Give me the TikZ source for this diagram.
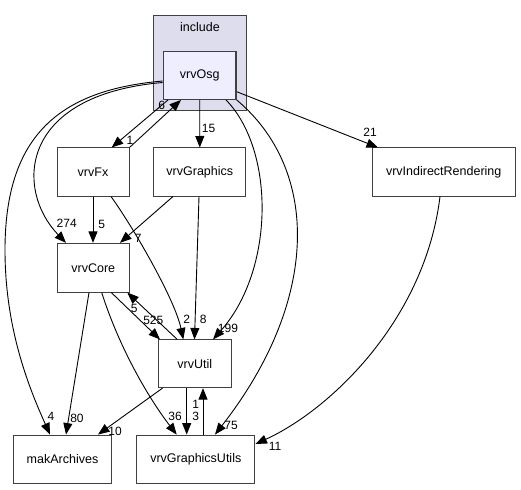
\documentclass[tikz,border=0pt]{standalone}
\usepackage{fontspec}
\setmainfont{Liberation Sans}
\usetikzlibrary{arrows.meta}
\definecolor{clusterfill}{HTML}{DDDDEE}
\definecolor{osgfill}{HTML}{EEEEFF}
\definecolor{bordergray}{HTML}{404040}
\begin{document}
\begin{tikzpicture}[x=1pt,y=-1pt,
  box/.style={draw=bordergray,line width=1pt,fill=white,inner sep=0pt,font=\fontsize{12.5}{14}\selectfont},
  lbl/.style={inner sep=0pt,font=\fontsize{12}{14}\selectfont},
  edge/.style={draw=black,line width=0.9pt,-{Triangle[length=11.5pt,width=9pt]}}]
\useasboundingbox (0,0) rectangle (521,489);
% cluster
\node[draw=bordergray,line width=1pt,fill=clusterfill,minimum width=93.5pt,minimum height=95pt,inner sep=0pt] (include) at (199.75,63) {};
\node[lbl,font=\fontsize{12.5}{14}\selectfont] (includelbl) at (200,27) {include};
% nodes
\node[box,fill=osgfill,line width=1.3pt,minimum width=72.7pt,minimum height=47.6pt] (osg) at (199.7,75.5) {vrvOsg};
\node[box,minimum width=72pt,minimum height=48pt] (fx) at (93,172) {vrvFx};
\node[box,minimum width=91.7pt,minimum height=48pt] (gr) at (199.8,172) {vrvGraphics};
\node[box,minimum width=142.7pt,minimum height=48pt] (ir) at (443.7,172) {vrvIndirectRendering};
\node[box,minimum width=72pt,minimum height=48.7pt] (core) at (93.3,267.7) {vrvCore};
\node[box,minimum width=72.7pt,minimum height=47.7pt] (util) at (194.7,363.8) {vrvUtil};
\node[box,minimum width=98.4pt,minimum height=48.3pt] (mak) at (62.5,459.2) {makArchives};
\node[box,minimum width=118.3pt,minimum height=48.3pt] (gu) at (195.8,459.2) {vrvGraphicsUtils};
% edges
\draw[edge] ([xshift=-31.7pt]osg.south) -- ([xshift=18.7pt]fx.north);
\draw[edge] (fx.north east) -- ([xshift=-18.7pt]osg.south);
\draw[edge] (osg.south) -- (gr.north);
\draw[edge] ([yshift=-16.2pt]osg.east) -- ([xshift=-65.7pt]ir.north);
\draw[edge] ([yshift=-7pt]osg.west) .. controls (18,95) and (15,190) .. ([xshift=-27.3pt]core.north);
\draw[edge] ([yshift=-5.5pt]osg.west) .. controls (60,90) and (5,135) .. (5,250) .. controls (5,330) and (30,390) .. ([xshift=-12.5pt]mak.north);
\draw[edge] ([xshift=26.3pt]osg.south) .. controls (275,150) and (275,270) .. ([xshift=18.3pt]util.north);
\draw[edge] (osg.south east) .. controls (320,170) and (320,300) .. ([xshift=19.2pt]gu.north);
\draw[edge] (fx.south) -- ([xshift=-0.3pt]core.north);
\draw[edge] ([xshift=18pt]fx.south) .. controls (135,230) and (175,300) .. ([xshift=-11.4pt]util.north);
\draw[edge] ([xshift=-26.8pt]gr.south) -- ([xshift=26.7pt]core.north);
\draw[edge] ([xshift=-0.8pt]gr.south) -- ([xshift=-0.2pt]util.north);
\draw[edge] ([xshift=-3.7pt]ir.south) .. controls (425,320) and (330,410) .. ([yshift=15.2pt]gu.east);
\draw[edge] ([xshift=-4.3pt]core.south) -- ([xshift=3.5pt]mak.north);
\draw[edge] ([xshift=18pt]core.south) -- ([xshift=-34.7pt]util.north);
\draw[edge] ([xshift=-17.4pt]util.north) -- ([xshift=34pt]core.south);
\draw[edge] ([xshift=8.4pt]core.south) .. controls (120,350) and (150,400) .. ([xshift=-19.1pt]gu.north);
\draw[edge] ([xshift=-32.2pt]util.south) -- ([xshift=35.5pt]mak.north);
\draw[edge] ([xshift=-8pt]util.south) -- ([xshift=-9.1pt]gu.north);
\draw[edge] ([xshift=7.2pt]gu.north) -- ([xshift=8.3pt]util.south);
% labels
\node[lbl] (l1) at (130,140) {1};
\node[lbl] (l6) at (161.7,105.5) {6};
\node[lbl] (l15) at (208.5,128) {15};
\node[lbl] (l21) at (370,132.3) {21};
\node[lbl] (l274) at (66.7,223) {274};
\node[lbl] (l4) at (51,416) {4};
\node[lbl] (l199) at (228,328) {199};
\node[lbl] (l75) at (231,425) {75};
\node[lbl] (l5a) at (101.7,224) {5};
\node[lbl] (l2) at (186.7,319) {2};
\node[lbl] (l7) at (138.3,238) {7};
\node[lbl] (l8) at (203.3,319) {8};
\node[lbl] (l11) at (275,446) {11};
\node[lbl] (l80) at (77,418) {80};
\node[lbl] (l525) at (153.3,320) {525};
\node[lbl] (l5b) at (134.3,308.3) {5};
\node[lbl] (l36) at (175,416) {36};
\node[lbl] (l10) at (115,431) {10};
\node[lbl] (l3) at (195.7,416) {3};
\node[lbl] (l1b) at (195.7,404) {1};
\end{tikzpicture}
\end{document}
